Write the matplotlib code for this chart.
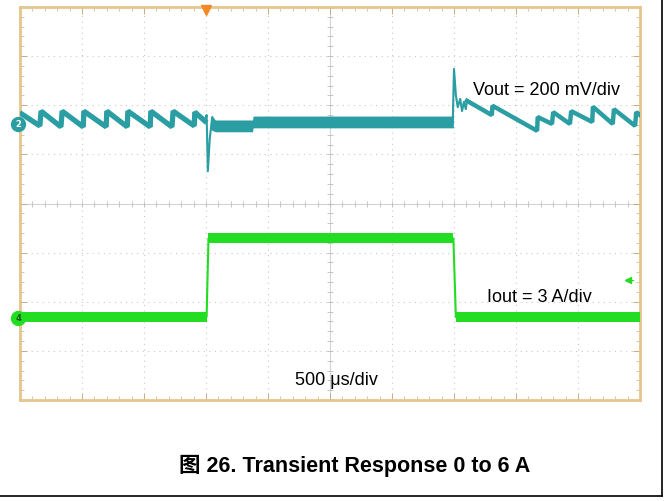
import matplotlib
matplotlib.use("Agg")
import matplotlib.pyplot as plt
from matplotlib.lines import Line2D
from matplotlib.ticker import MultipleLocator

# scope screen in divisions: 10 x 8, time 500 us/div
# Vout (ch2) sawtooth / transient vertices, in divisions
vout_t = [0.03, 0.32, 0.34, 0.66, 0.68, 1.02, 1.03, 1.39, 1.40, 1.73, 1.74,
          2.10, 2.11, 2.45, 2.47, 2.81, 2.82, 2.98, 3.01, 3.03, 3.06, 3.10, 3.19]
vout_v = [1.82, 1.58, 1.88, 1.56, 1.88, 1.56, 1.88, 1.56, 1.88, 1.56, 1.88,
          1.56, 1.88, 1.56, 1.88, 1.58, 1.86, 1.68, 1.80, 0.66, 1.31, 1.76, 1.58]

# Vout during load (noisy flat band)
band_t = [3.08, 3.15, 3.75, 3.76, 6.99]
band_hi = [1.76, 1.70, 1.70, 1.78, 1.78]
band_lo = [1.50, 1.46, 1.46, 1.54, 1.54]

# Vout after load release
vout2_t = [6.98, 7.00, 7.03, 7.06, 7.10, 7.13, 7.16, 7.19, 7.21, 7.61, 7.62,
           8.34, 8.35, 8.58, 8.60, 8.87, 8.89, 9.23, 9.24, 9.56, 9.58, 9.92,
           9.94, 10.0]
vout2_v = [1.66, 2.74, 2.21, 1.96, 2.13, 1.88, 2.07, 1.92, 2.09, 1.80, 1.99,
           1.48, 1.76, 1.62, 1.86, 1.62, 1.88, 1.66, 1.97, 1.62, 1.92, 1.58,
           1.86, 1.80]

# Iout (ch4) step, in divisions
iout_t = [0.0, 3.01, 3.04, 6.99, 7.03, 10.0]
iout_v = [-2.31, -2.31, -0.71, -0.71, -2.31, -2.31]
iout_flat = [(0.0, 3.01, -2.31), (3.04, 6.99, -0.71), (7.03, 10.0, -2.31)]

ch2_level = 1.62
ch4_level = -2.33
trig_pos = 3.0
trig_level = -1.56

teal = "#2A9EA3"
green = "#22DD22"
tan = "#E6C58C"
grid_c = "#C9C9C9"

fig = plt.figure(figsize=(6.68, 5.02), dpi=100)
ax = fig.add_axes([20 / 668, 1 - 401 / 502, 620 / 668, 393 / 502])
ax.set_xlim(0, 10)
ax.set_ylim(-4, 4)

for s in ax.spines.values():
    s.set_color(tan)
    s.set_linewidth(2)
ax.xaxis.set_major_locator(MultipleLocator(1))
ax.yaxis.set_major_locator(MultipleLocator(1))
ax.xaxis.set_minor_locator(MultipleLocator(0.2))
ax.yaxis.set_minor_locator(MultipleLocator(0.2))
ax.tick_params(which="both", direction="in", color="#C2AE88", top=True, right=True,
               labelbottom=False, labelleft=False)
ax.tick_params(which="major", length=5, width=0.7)
ax.tick_params(which="minor", length=3, width=0.5)

# dotted graticule
for gx in range(1, 10):
    if gx != 5:
        ax.axvline(gx, color=grid_c, lw=0.8, ls=(0, (1, 4)), zorder=0)
for gy in range(-3, 4):
    if gy != 0:
        ax.axhline(gy, color=grid_c, lw=0.8, ls=(0, (1, 4)), zorder=0)
# center cross with small ticks
ax.axhline(0, color="#D2D2D2", lw=0.8, zorder=0)
ax.axvline(5, color="#D2D2D2", lw=0.8, zorder=0)
cx = [i * 0.2 for i in range(1, 50)]
cy = [-4 + i * 0.2 for i in range(1, 40)]
ax.plot(cx, [0] * len(cx), ls="none", marker="|", ms=5, mew=0.6, color="#BDBDBD", zorder=0)
ax.plot([5] * len(cy), cy, ls="none", marker="_", ms=5, mew=0.6, color="#BDBDBD", zorder=0)

# Vout trace: thick sawtooth, thin spikes
ax.plot(vout_t[:18], vout_v[:18], color=teal, lw=3.8, solid_joinstyle="bevel", zorder=3)
ax.plot(vout_t[16:], vout_v[16:], color=teal, lw=1.5, zorder=3)
ax.fill_between(band_t, band_lo, band_hi, color=teal, lw=0, zorder=3)
ax.plot(vout2_t[:9], vout2_v[:9], color=teal, lw=1.5, zorder=3)
ax.plot(vout2_t[8:], vout2_v[8:], color=teal, lw=3.2, solid_joinstyle="bevel", zorder=3)

# Iout trace
ax.plot(iout_t, iout_v, color=green, lw=1.5, zorder=3)
for t0, t1, lv in iout_flat:
    ax.fill_between([t0, t1], [lv - 0.1] * 2, [lv + 0.1] * 2, color=green, lw=0, zorder=3)

# channel / trigger markers
ax.plot([-0.03], [ch2_level], "o", ms=10, color=teal, clip_on=False, zorder=5)
ax.text(-0.03, ch2_level, "2", color="white", fontsize=6, fontweight="bold",
        ha="center", va="center", clip_on=False, zorder=6)
ax.plot([-0.03], [ch4_level], "o", ms=10, color=green, clip_on=False, zorder=5)
ax.text(-0.03, ch4_level, "4", color="#106010", fontsize=6, fontweight="bold",
        ha="center", va="center", clip_on=False, zorder=6)
ax.plot([trig_pos], [3.94], "v", ms=7, color="#F08A24", clip_on=False, zorder=5)
ax.plot([9.8, 9.88], [trig_level, trig_level], color=green, lw=0.8, zorder=4)
ax.plot([9.8], [trig_level], "<", ms=4, color=green, zorder=4)

font = ["Liberation Sans", "DejaVu Sans"]
ax.text(7.3, 2.32, "Vout = 200 mV/div", fontsize=13, family=font, va="center", ha="left")
ax.text(7.53, -1.89, "Iout = 3 A/div", fontsize=13, family=font, va="center", ha="left")
ax.text(4.44, -3.58, "500 μs/div", fontsize=13, family=font, va="center", ha="left")

fig.text(355 / 668, 1 - 466 / 502, "图 26. Transient Response 0 to 6 A", fontsize=15.5,
         fontweight="bold", family=["Liberation Sans", "Noto Sans CJK SC"],
         ha="center", va="center")

# page frame lines
fig.add_artist(Line2D([662 / 668, 662 / 668], [1 - 497 / 502, 1], color="black", lw=1.2,
                      transform=fig.transFigure))
fig.add_artist(Line2D([0, 662 / 668], [1 - 497 / 502, 1 - 497 / 502], color="black", lw=1.2,
                      transform=fig.transFigure))

fig.savefig("out.png", dpi=100)
